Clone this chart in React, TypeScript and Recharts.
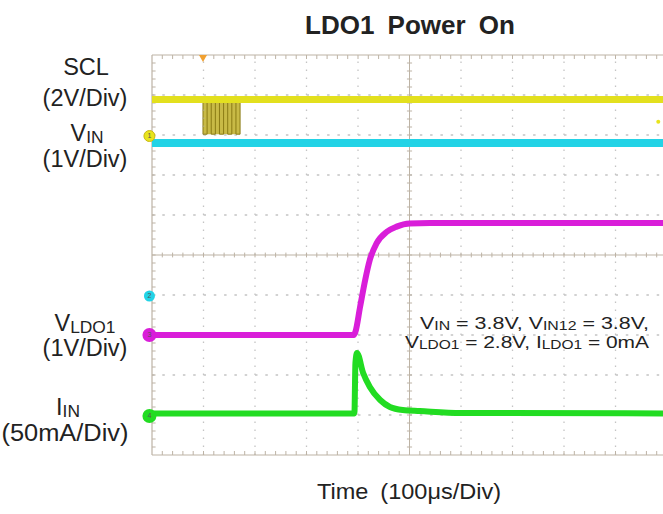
import React from 'react';
import { ComposedChart, Line, Area, XAxis, YAxis, ReferenceLine, ReferenceDot } from 'recharts';

const W = 663;
const H = 514;
const X_MAX = 9.922;

// Grid divisions (time divs, vertical divs)
const gridX = [1, 2, 3, 4, 6, 7, 8, 9];
const gridY = [1, 2, 3, 4, 6, 7, 8, 9];
const centerX = 5;
const centerY = 5;

// Traces (x in time divisions, y in vertical divisions from bottom)
const sclTimes = [0, X_MAX];
const sclValues = [8.89, 8.89];
const sclBurstEdges = [0.99, 1.07, 1.15, 1.23, 1.31, 1.39, 1.47, 1.55, 1.63, 1.71];
const sclBurstLow = 8.02;

const vinTimes = [0, X_MAX];
const vinValues = [7.8, 7.8];

const vldoTimes = [0, 3.92, 3.95, 4.04, 4.14, 4.23, 4.36, 4.56, 4.75, 5.0, 5.4, X_MAX];
const vldoValues = [3.0, 3.0, 3.08, 3.7, 4.38, 4.88, 5.29, 5.58, 5.71, 5.79, 5.8, 5.8];

const iinTimes = [0, 3.93, 3.95, 3.98, 4.1, 4.23, 4.43, 4.62, 4.87, 5.2, 6.0, X_MAX];
const iinValues = [1.04, 1.04, 2.3, 2.55, 2.05, 1.7, 1.375, 1.2, 1.125, 1.1, 1.05, 1.04];

// Channel markers
const markerLevels = [7.975, 3.975, 3.0, 0.975];
const markerNames = ['1', '2', '3', '4'];
const markerColors = ['#e8e41c', '#22d3e6', '#d91ed9', '#22dc22'];
const triggerTime = 0.99;
const triggerLevel = 8.33;

const COLORS = {
  scl: '#e3e01e',
  burst: '#c2b232',
  burstEdge: '#8a7b14',
  vin: '#22d3e6',
  vldo: '#d91ed9',
  iin: '#22dc22',
  grid: '#c4c4c4',
  frame: '#bdb3a5',
};

const FONT = "'Liberation Sans', Arial, Helvetica, sans-serif";

const toPts = (ts: number[], vs: number[]) => ts.map((t, i) => ({ t, v: vs[i] }));

const sclData = toPts(sclTimes, sclValues);
const vinData = toPts(vinTimes, vinValues);
const vldoData = toPts(vldoTimes, vldoValues);
const iinData = toPts(iinTimes, iinValues);

const burstBand = [
  { t: sclBurstEdges[0], r: [sclBurstLow, sclValues[0]] },
  { t: sclBurstEdges[sclBurstEdges.length - 1], r: [sclBurstLow, sclValues[0]] },
];
const burstWave: { t: number; v: number }[] = [];
sclBurstEdges.forEach((e, i) => {
  const hiFirst = i % 2 === 0;
  burstWave.push({ t: e, v: hiFirst ? sclValues[0] : sclBurstLow });
  burstWave.push({ t: e, v: hiFirst ? sclBurstLow : sclValues[0] });
});

const minorX: number[] = [];
for (let i = 1; i < 50; i++) minorX.push(i * 0.2);
const minorY: number[] = [];
for (let i = 1; i < 50; i++) minorY.push(i * 0.2);

type Seg = { t: string; sub?: boolean };
type TextLine = { x: number; y: number; size: number; anchor: 'start' | 'middle' | 'end'; segs: Seg[]; bold?: boolean; len?: number; ws?: number };

const textLines: TextLine[] = [
  { x: 410, y: 34, size: 26, anchor: 'middle', bold: true, segs: [{ t: 'LDO1 Power On' }], ws: 6 },
  { x: 86, y: 75, size: 23.5, anchor: 'middle', segs: [{ t: 'SCL' }] },
  { x: 85, y: 106, size: 23.5, anchor: 'middle', segs: [{ t: '(2V/Div)' }] },
  { x: 87, y: 141, size: 23.5, anchor: 'middle', segs: [{ t: 'V' }, { t: 'IN', sub: true }] },
  { x: 85, y: 167, size: 23.5, anchor: 'middle', segs: [{ t: '(1V/Div)' }] },
  { x: 85, y: 331, size: 23.5, anchor: 'middle', segs: [{ t: 'V' }, { t: 'LDO1', sub: true }] },
  { x: 85, y: 356, size: 23.5, anchor: 'middle', segs: [{ t: '(1V/Div)' }] },
  { x: 68, y: 415, size: 23.5, anchor: 'middle', segs: [{ t: 'I' }, { t: 'IN', sub: true }] },
  { x: 65, y: 441, size: 23.5, anchor: 'middle', segs: [{ t: '(50mA/Div)' }], len: 127 },
  {
    x: 649, y: 329, size: 17, anchor: 'end', len: 229,
    segs: [{ t: 'V' }, { t: 'IN', sub: true }, { t: ' = 3.8V, V' }, { t: 'IN12', sub: true }, { t: ' = 3.8V,' }],
  },
  {
    x: 649, y: 348, size: 17, anchor: 'end', len: 244,
    segs: [{ t: 'V' }, { t: 'LDO1', sub: true }, { t: ' = 2.8V, I' }, { t: 'LDO1', sub: true }, { t: ' = 0mA' }],
  },
  { x: 409, y: 499, size: 21.5, anchor: 'middle', segs: [{ t: 'Time (100μs/Div)' }], ws: 5, len: 184 },
];

const renderLine = (l: TextLine, k: number) => {
  const sub = l.size * 0.74;
  const shift = l.size * 0.07;
  const parts: React.ReactNode[] = [];
  let down = false;
  l.segs.forEach((s, i) => {
    let dy = 0;
    if (s.sub && !down) { dy = shift; down = true; }
    else if (!s.sub && down) { dy = -shift; down = false; }
    parts.push(
      <tspan key={i} dy={dy || undefined} fontSize={s.sub ? sub : l.size}>{s.t}</tspan>
    );
  });
  return (
    <text
      key={k}
      x={l.x}
      y={l.y}
      textAnchor={l.anchor}
      fontFamily={FONT}
      fontWeight={l.bold ? 'bold' : 'normal'}
      fontSize={l.size}
      fill="#222"
      textLength={l.len}
      lengthAdjust={l.len ? 'spacingAndGlyphs' : undefined}
      style={{ wordSpacing: l.ws ? `${l.ws}px` : undefined, whiteSpace: 'pre' }}
    >
      {parts}
    </text>
  );
};

const Triangle = (props: any) => {
  const { cx, cy } = props;
  if (cx == null || cy == null) return null;
  return <path d={`M${cx - 4},${cy} L${cx + 4},${cy} L${cx},${cy + 7} Z`} fill="#f0a030" />;
};

export default function App() {
  return (
    <div style={{ position: 'absolute', left: 0, top: 0, width: W, height: H, background: '#fff' }}>
      <ComposedChart width={W} height={H} margin={{ top: 55, right: 0, bottom: 59, left: 152 }}>
        <XAxis dataKey="t" type="number" domain={[0, X_MAX]} hide allowDataOverflow />
        <YAxis type="number" domain={[0, 10]} hide allowDataOverflow />

        {gridX.map((g) => (
          <ReferenceLine key={'gx' + g} x={g} stroke={COLORS.grid} strokeWidth={1.3} strokeDasharray="1.5 6.5" />
        ))}
        {gridY.map((g) => (
          <ReferenceLine key={'gy' + g} y={g} stroke={COLORS.grid} strokeWidth={1.3} strokeDasharray="2.5 7.8" />
        ))}
        <ReferenceLine x={centerX} stroke={COLORS.frame} strokeWidth={1} />
        <ReferenceLine y={centerY} stroke={COLORS.frame} strokeWidth={1} />
        <ReferenceLine x={0} stroke={COLORS.frame} strokeWidth={1.2} />
        <ReferenceLine y={10} stroke={COLORS.frame} strokeWidth={1.2} />
        <ReferenceLine y={0} stroke={COLORS.frame} strokeWidth={1} />

        {minorX.map((t) => (
          <ReferenceLine key={'tt' + t} segment={[{ x: t, y: 10 }, { x: t, y: 9.9 }]} stroke={COLORS.frame} ifOverflow="visible" />
        ))}
        {minorX.map((t) => (
          <ReferenceLine key={'tb' + t} segment={[{ x: t, y: 0 }, { x: t, y: 0.1 }]} stroke={COLORS.frame} ifOverflow="visible" />
        ))}
        {minorX.map((t) => (
          <ReferenceLine key={'tc' + t} segment={[{ x: t, y: 4.94 }, { x: t, y: 5.06 }]} stroke={COLORS.frame} ifOverflow="visible" />
        ))}
        {minorY.map((v) => (
          <ReferenceLine key={'tl' + v} segment={[{ x: 0, y: v }, { x: 0.07, y: v }]} stroke={COLORS.frame} ifOverflow="visible" />
        ))}
        {minorY.map((v) => (
          <ReferenceLine key={'tcv' + v} segment={[{ x: 4.95, y: v }, { x: 5.05, y: v }]} stroke={COLORS.frame} ifOverflow="visible" />
        ))}

        <Area data={burstBand} dataKey="r" type="linear" fill={COLORS.burst} fillOpacity={0.9} stroke="none" isAnimationActive={false} />
        <Line data={burstWave} dataKey="v" type="linear" stroke={COLORS.burstEdge} strokeWidth={1} dot={false} isAnimationActive={false} />
        <Line data={sclData} dataKey="v" type="linear" stroke={COLORS.scl} strokeWidth={7} dot={false} isAnimationActive={false} />
        <Line data={vinData} dataKey="v" type="linear" stroke={COLORS.vin} strokeWidth={8} dot={false} isAnimationActive={false} />
        <Line data={vldoData} dataKey="v" type="monotone" stroke={COLORS.vldo} strokeWidth={6} dot={false} isAnimationActive={false} />
        <Line data={iinData} dataKey="v" type="monotone" stroke={COLORS.iin} strokeWidth={6} dot={false} isAnimationActive={false} />

        {markerLevels.map((lv, i) => (
          <ReferenceDot
            key={'m' + i}
            x={-0.05}
            y={lv}
            r={i < 2 ? 5.5 : 7}
            fill={markerColors[i]}
            stroke={i === 0 ? '#c8b814' : 'none'}
            ifOverflow="visible"
            label={{ value: markerNames[i], position: 'center', fontSize: 7, fill: '#555', fontFamily: FONT }}
          />
        ))}
        <ReferenceDot x={triggerTime} y={10} r={4} shape={Triangle} ifOverflow="visible" />
        <ReferenceDot x={9.83} y={triggerLevel} r={2} fill="#e8e41c" stroke="none" ifOverflow="visible" />
      </ComposedChart>
      <svg width={W} height={H} style={{ position: 'absolute', left: 0, top: 0, pointerEvents: 'none' }}>
        {textLines.map(renderLine)}
      </svg>
    </div>
  );
}
